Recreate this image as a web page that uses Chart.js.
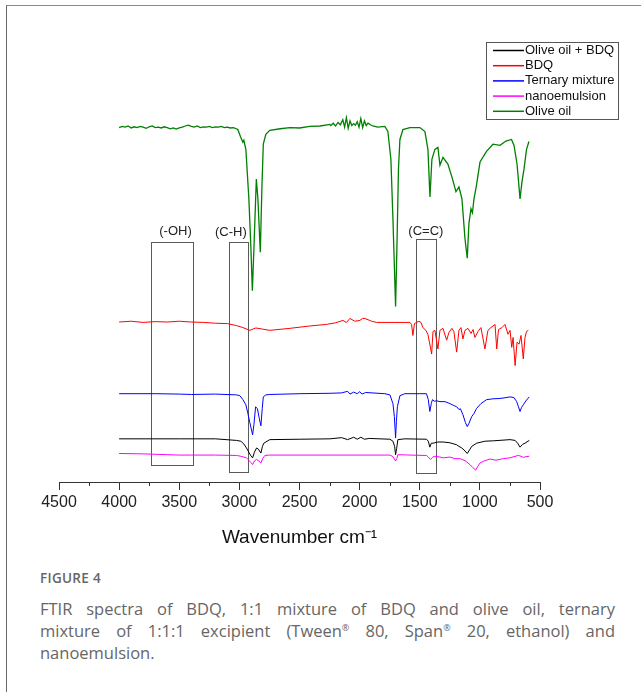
<!DOCTYPE html>
<html>
<head>
<meta charset="utf-8">
<script src="https://cdn.jsdelivr.net/npm/chart.js@4.4.1/dist/chart.umd.min.js"></script>
<style>
  html, body { margin: 0; padding: 0; background: #fff; }
  #page { position: relative; width: 641px; height: 692px; overflow: hidden; }
  #frame { position: absolute; left: 6px; top: 5px; right: -10px; bottom: -10px;
           border-top: 1px solid #8a8a8a; border-left: 1px solid #6a6a6a; }
  #chart { position: absolute; left: 0; top: 0; }
  #figlabel { position: absolute; left: 40px; top: 569px; font: 600 13.5px "Open Sans", "Noto Sans", sans-serif;
              color: #666; letter-spacing: 0.3px; }
  #caption { position: absolute; left: 40px; top: 598px; width: 575px; font: 16.5px "Open Sans", "Noto Sans", sans-serif;
             line-height: 22px; color: #666; }
  #caption div { text-align: justify; text-align-last: justify; white-space: nowrap; }
  #caption div.last { text-align-last: left; }
  #caption sup { font-size: 9px; line-height: 0; }
</style>
</head>
<body>
<div id="page">
  <div id="frame"></div>
  <canvas id="chart" width="641" height="560"></canvas>
  <div id="figlabel">FIGURE 4</div>
  <div id="caption">
    <div>FTIR spectra of BDQ, 1:1 mixture of BDQ and olive oil, ternary</div>
    <div>mixture of 1:1:1 excipient (Tween<sup>®</sup> 80, Span<sup>®</sup> 20, ethanol) and</div>
    <div class="last">nanoemulsion.</div>
  </div>
</div>
<script>
// FTIR spectra, wavenumber (cm-1) vs offset transmittance (a.u.)
const oliveWn = [4000, 3975, 3950, 3925, 3900, 3875, 3850, 3825, 3800, 3775, 3750, 3725, 3700, 3675, 3650, 3625,
  3600, 3575, 3550, 3525, 3500, 3475, 3450, 3425, 3400, 3375, 3350, 3325, 3300, 3275, 3250, 3225, 3200, 3175,
  3150, 3125, 3100, 3075, 3050, 3025, 3013, 2988, 2971, 2963, 2946, 2921, 2904, 2892, 2879, 2859, 2846, 2826,
  2813, 2801, 2780, 2747, 2660, 2580, 2500, 2414, 2330, 2247, 2240, 2220, 2200, 2180, 2160, 2140, 2125, 2110,
  2095, 2080, 2065, 2050, 2035, 2020, 2005, 1990, 1975, 1960, 1945, 1930, 1910, 1890, 1850, 1790, 1765, 1740,
  1723, 1701, 1690, 1677, 1665, 1640, 1582, 1499, 1457, 1432, 1415, 1399, 1374, 1349, 1332, 1307, 1266, 1232,
  1199, 1174, 1149, 1124, 1105, 1091, 1074, 1062, 1049, 1029, 999, 945, 891, 833, 783, 737, 716, 691, 666, 650,
  633, 612, 592];
const oliveT = [89.5, 89.8, 89.6, 89.9, 89.4, 89.7, 89.5, 89.8, 89.6, 89.3, 89.7, 89.9, 89.5, 89.6, 89.4, 89.7,
  89.5, 89.2, 89.4, 89.1, 89.4, 89.6, 89.9, 90.1, 89.8, 89.6, 89.9, 89.5, 89.7, 89.6, 89.8, 89.5, 89.7, 89.6,
  89.8, 89.5, 89.6, 89.4, 89.5, 89.2, 89.0, 87.0, 85.8, 86.3, 84.0, 71.5, 59.0, 48.3, 59.0, 76.5, 71.5, 58.0,
  74.0, 85.3, 87.8, 88.8, 89.2, 89.5, 89.4, 89.8, 89.9, 90.3, 90.0, 90.6, 89.9, 90.8, 90.2, 91.5, 89.6, 92.0,
  89.3, 91.2, 90.0, 90.5, 90.1, 91.0, 89.6, 91.8, 89.5, 91.2, 90.0, 90.6, 90.2, 89.9, 89.6, 89.8, 88.5, 81.5,
  66.5, 44.3, 59.0, 79.0, 86.5, 89.0, 89.5, 89.5, 88.5, 84.0, 72.0, 81.5, 84.0, 84.5, 80.0, 82.0, 80.3, 77.0,
  73.3, 74.5, 71.5, 61.5, 56.5, 65.3, 69.0, 68.0, 71.5, 74.8, 80.8, 83.5, 85.3, 85.0, 86.1, 86.5, 85.0, 80.3,
  71.5, 75.8, 79.0, 84.0, 86.0];

const bdqWn = [4000, 3900, 3800, 3700, 3600, 3500, 3400, 3300, 3200, 3100, 3024, 2971, 2913, 2863, 2805, 2747,
  2580, 2414, 2275, 2200, 2139, 2110, 2081, 2040, 1998, 1975, 1956, 1900, 1859, 1707, 1582, 1568, 1557, 1544,
  1526, 1507, 1490, 1474, 1449, 1432, 1401, 1390, 1374, 1349, 1332, 1307, 1276, 1257, 1232, 1216, 1193, 1174,
  1157, 1141, 1124, 1099, 1074, 1057, 1041, 1016, 991, 958, 933, 908, 874, 860, 845, 816, 791, 766, 749, 735,
  724, 707, 691, 674, 658, 639, 625, 612, 597];
const bdqT = [40.4, 40.6, 40.3, 40.5, 40.4, 40.6, 40.4, 40.3, 40.1, 40.0, 39.5, 39.0, 38.3, 38.9, 38.6, 38.3,
  38.8, 39.4, 39.8, 40.2, 40.8, 40.3, 41.3, 40.6, 40.8, 41.3, 41.3, 40.6, 40.3, 40.3, 40.3, 39.8, 37.0, 40.0,
  40.3, 40.6, 40.3, 39.0, 38.3, 37.3, 32.3, 38.0, 38.3, 33.6, 38.3, 38.8, 35.8, 37.8, 38.8, 38.0, 32.8, 38.3,
  39.0, 36.1, 38.3, 38.8, 37.5, 38.5, 36.5, 38.0, 39.0, 33.6, 38.3, 39.0, 39.8, 33.6, 38.5, 39.0, 39.8, 37.3,
  38.3, 34.0, 36.5, 29.4, 35.3, 34.8, 37.0, 31.1, 36.5, 38.0, 38.3];

const ternaryWn = [4000, 3700, 3500, 3400, 3200, 3024, 2996, 2971, 2946, 2929, 2913, 2890, 2879, 2865, 2850,
  2834, 2821, 2810, 2801, 2780, 2747, 2497, 2247, 2150, 2100, 2080, 2050, 2020, 2000, 1980, 1950, 1790, 1748,
  1723, 1711, 1701, 1694, 1686, 1665, 1624, 1499, 1444, 1429, 1416, 1404, 1394, 1379, 1360, 1332, 1291, 1249,
  1216, 1193, 1174, 1162, 1141, 1120, 1105, 1091, 1068, 1049, 1027, 991, 944, 891, 833, 783, 749, 716, 694,
  679, 666, 654, 639, 617, 589];
const ternaryT = [22.3, 22.3, 22.2, 22.1, 22.2, 22.0, 21.8, 20.8, 19.5, 17.3, 15.0, 11.9, 14.5, 19.0, 18.5,
  16.0, 14.2, 18.5, 21.5, 22.0, 22.1, 22.3, 22.4, 22.5, 22.9, 22.2, 22.7, 22.3, 22.8, 22.2, 22.6, 22.3, 22.0,
  19.8, 16.5, 11.1, 15.3, 19.0, 21.8, 22.3, 22.3, 22.3, 20.8, 17.8, 19.8, 20.8, 20.4, 20.5, 20.3, 20.3, 19.8,
  19.3, 19.0, 18.3, 18.5, 17.0, 15.0, 14.0, 14.8, 16.5, 17.3, 18.6, 19.8, 20.8, 21.0, 21.1, 21.3, 21.5, 21.3,
  20.3, 19.0, 17.8, 18.8, 19.5, 20.5, 21.5];

const mixWn = [4000, 3500, 3200, 3024, 2988, 2963, 2941, 2921, 2904, 2890, 2875, 2857, 2842, 2821, 2808, 2797,
  2747, 2497, 2247, 2150, 2100, 2050, 2020, 1990, 1960, 1920, 1748, 1723, 1709, 1701, 1692, 1682, 1624, 1444,
  1429, 1416, 1404, 1389, 1349, 1305, 1249, 1193, 1174, 1151, 1132, 1105, 1086, 1068, 1027, 958, 889, 749, 707,
  686, 666, 645, 625, 589];
const mixT = [10.9, 10.9, 10.9, 10.5, 10.3, 9.6, 8.6, 7.5, 6.6, 6.1, 7.5, 8.6, 8.3, 7.3, 9.0, 9.8, 10.7, 10.8,
  10.9, 11.2, 10.7, 11.3, 10.8, 11.3, 10.8, 11.0, 10.8, 10.3, 9.0, 6.9, 8.5, 10.7, 10.9, 10.8, 10.3, 8.8, 9.8,
  9.8, 10.1, 10.1, 9.9, 9.4, 9.0, 8.6, 8.1, 7.2, 8.1, 9.0, 9.8, 10.3, 10.4, 10.7, 10.5, 9.8, 8.8, 9.5, 9.8, 10.5];

const nanoWn = [4000, 3800, 3600, 3500, 3400, 3200, 3024, 2988, 2963, 2941, 2921, 2904, 2890, 2875, 2857, 2838,
  2821, 2805, 2788, 2747, 2247, 1748, 1723, 1701, 1690, 1682, 1582, 1444, 1429, 1411, 1391, 1374, 1332, 1305,
  1249, 1208, 1166, 1124, 1083, 1057, 1035, 1016, 999, 966, 916, 866, 805, 749, 716, 681, 658, 639, 617, 589];
const nanoT = [7.2, 7.1, 6.9, 6.8, 6.8, 6.8, 6.7, 6.5, 6.3, 6.1, 5.5, 4.9, 4.4, 5.3, 5.7, 5.3, 4.8, 6.0, 6.7,
  6.8, 6.8, 6.8, 6.4, 5.3, 6.0, 6.9, 6.8, 6.7, 6.3, 5.7, 6.3, 6.5, 6.3, 6.1, 6.3, 5.9, 5.9, 5.4, 4.4, 3.6, 3.0,
  4.0, 4.8, 5.3, 5.8, 5.5, 5.9, 6.1, 6.4, 6.7, 6.5, 6.2, 6.4, 6.5];

const seriesNames = ["Olive oil + BDQ", "BDQ", "Ternary mixture", "nanoemulsion", "Olive oil"];
const seriesColors = ["#000000", "#ff0000", "#0000ff", "#ff00ff", "#008000"];

const xTicks = [4500, 4000, 3500, 3000, 2500, 2000, 1500, 1000, 500];

// marked bands
const bandLabels = ["(-OH)", "(C-H)", "(C=C)"];
const bandFrom = [3736, 3085, 1532];
const bandTo = [3385, 2927, 1368];
const bandTop = [60.7, 60.7, 61.3];
const bandBottom = [4.3, 2.5, 2.3];
const bandLabelWn = [3531, 3071, 1449];
const bandLabelY = [63.4, 63.0, 63.3];

function pts(wn, t) { return wn.map((w, i) => ({ x: w, y: t[i] })); }

const FONT = '"Liberation Sans", Arial, sans-serif';

const bandsPlugin = {
  id: "bands",
  beforeDatasetsDraw(chart) {
    const { ctx, scales: { x, y } } = chart;
    ctx.save();
    ctx.strokeStyle = "#5a5a5a";
    ctx.lineWidth = 1;
    bandLabels.forEach((lab, i) => {
      const l = Math.round(x.getPixelForValue(bandFrom[i])) + 0.5;
      const r = Math.round(x.getPixelForValue(bandTo[i])) + 0.5;
      const t = Math.round(y.getPixelForValue(bandTop[i])) + 0.5;
      const b = Math.round(y.getPixelForValue(bandBottom[i])) + 0.5;
      ctx.strokeRect(l, t, r - l, b - t);
      ctx.fillStyle = "#222";
      ctx.font = "13px " + FONT;
      ctx.textAlign = "center";
      ctx.textBaseline = "middle";
      ctx.fillText(lab, x.getPixelForValue(bandLabelWn[i]), y.getPixelForValue(bandLabelY[i]));
    });
    ctx.restore();
  },
  afterDraw(chart) {
    const { ctx, scales: { x } } = chart;
    ctx.save();
    // minor ticks
    ctx.strokeStyle = "#333";
    ctx.lineWidth = 1;
    for (let v = 750; v < 4500; v += 500) {
      const px = Math.round(x.getPixelForValue(v)) + 0.5;
      ctx.beginPath();
      ctx.moveTo(px, x.top);
      ctx.lineTo(px, x.top + 4);
      ctx.stroke();
    }
    // legend box
    const lx = 486, ly = 42, lw = 132, lh = 77;
    ctx.strokeStyle = "#555";
    ctx.strokeRect(lx + 0.5, ly + 0.5, lw, lh);
    ctx.font = "13px " + FONT;
    ctx.textAlign = "left";
    ctx.textBaseline = "middle";
    chart.data.datasets.forEach((ds, i) => {
      const yy = ly + 8.5 + i * 15.2;
      ctx.strokeStyle = ds.borderColor;
      ctx.lineWidth = 1.5;
      ctx.beginPath();
      ctx.moveTo(lx + 7, yy);
      ctx.lineTo(lx + 38, yy);
      ctx.stroke();
      ctx.fillStyle = "#111";
      ctx.fillText(ds.label, lx + 39, yy);
    });
    ctx.restore();
  }
};

const allWn = [mixWn, bdqWn, ternaryWn, nanoWn, oliveWn];
const allT = [mixT, bdqT, ternaryT, nanoT, oliveT];

new Chart(document.getElementById("chart"), {
  type: "line",
  data: {
    datasets: seriesNames.map((name, i) => ({
      label: name,
      data: pts(allWn[i], allT[i]),
      borderColor: seriesColors[i],
      borderWidth: i === 4 ? 1.3 : 1,
      pointRadius: 0,
      tension: 0,
      fill: false
    }))
  },
  options: {
    responsive: false,
    animation: false,
    events: [],
    layout: { padding: { left: 59, right: 101, top: 86, bottom: 7 } },
    plugins: { legend: { display: false }, tooltip: { enabled: false } },
    scales: {
      x: {
        type: "linear",
        reverse: true,
        min: 500,
        max: 4500,
        afterBuildTicks: s => { s.ticks = xTicks.map(v => ({ value: v })); },
        border: { display: true, color: "#333", width: 1 },
        grid: { drawOnChartArea: false, drawTicks: true, tickLength: 8, color: "#333" },
        ticks: { color: "#222", padding: 3, maxRotation: 0, font: { family: FONT, size: 16 },
                 callback: v => String(v) },
        title: { display: true, text: "Wavenumber cm⁻¹", color: "#111",
                 padding: { top: 11, bottom: 4 }, font: { family: FONT, size: 19 } }
      },
      y: { display: false, min: 0, max: 100 }
    }
  },
  plugins: [bandsPlugin]
});
</script>
</body>
</html>
